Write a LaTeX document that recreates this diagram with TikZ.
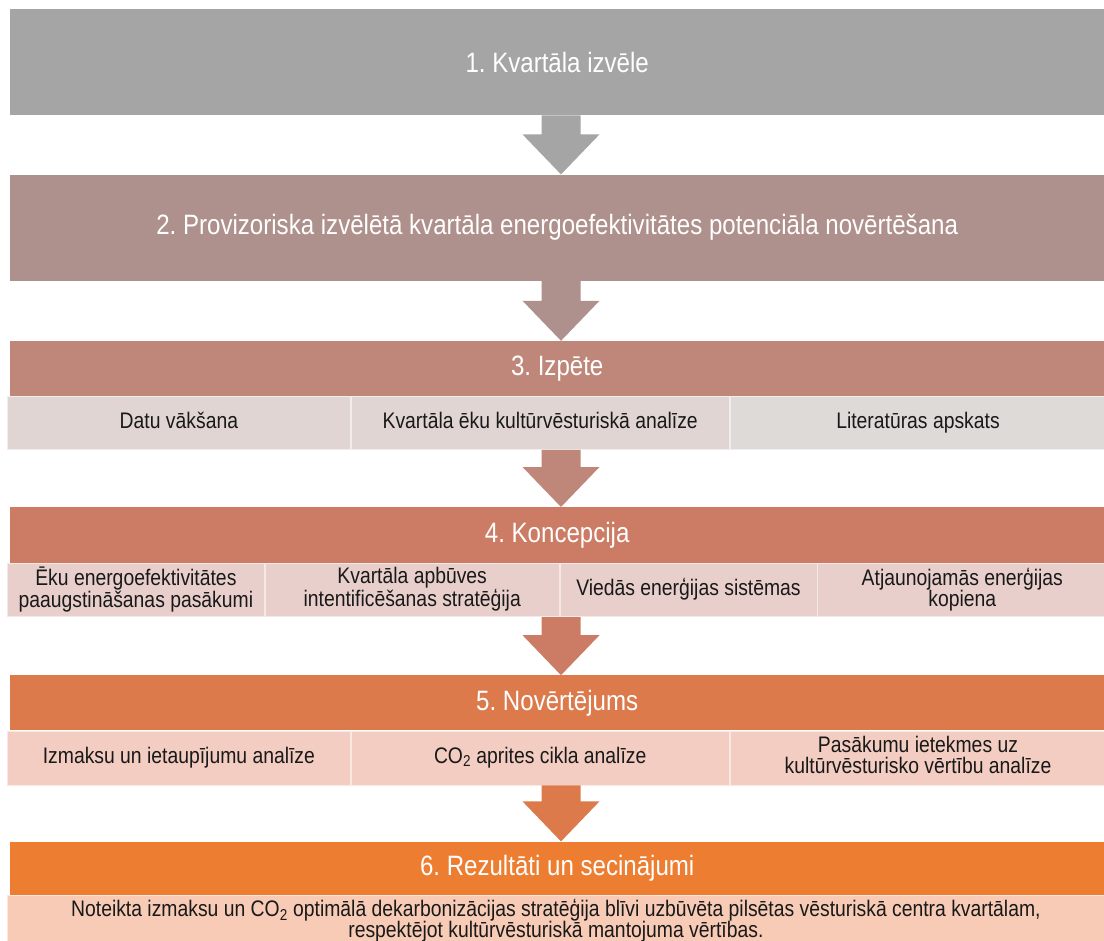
\documentclass[tikz,border=0pt]{standalone}
\usepackage{fontspec}
\setmainfont{Liberation Sans}[FakeStretch=0.86]
\usetikzlibrary{positioning, calc}
\frenchspacing

\definecolor{stageA}{HTML}{A5A5A5}
\definecolor{stageB}{HTML}{AE908C}
\definecolor{stageC}{HTML}{BE877A}
\definecolor{stageD}{HTML}{CC7C64}
\definecolor{stageE}{HTML}{DC7A4C}
\definecolor{stageF}{HTML}{ED7D31}
\definecolor{partC}{HTML}{E1D5D3}
\definecolor{partCc}{HTML}{DEDAD8}
\definecolor{partD}{HTML}{E8CFCB}
\definecolor{partE}{HTML}{F3CDC2}
\definecolor{partF}{HTML}{F7CBB6}

\tikzset{
  stage/.style={fill=#1, text=white, inner sep=0pt, minimum width=1094pt,
    font=\fontsize{28}{30}\selectfont},
  part/.style={fill=#1, draw=white!55!#1, line width=0.8pt, inner sep=0pt,
    minimum height=53pt, align=center, text=black!90,
    font=\fontsize{22.5}{21}\selectfont,
    execute at begin node=\strut, execute at end node=\strut},
}

% block arrow from the bottom of #1 down to the top of #2
\newcommand{\stagearrow}[3]{%
  \fill[#3] ($(axis |- #1.south)+(-19.5pt,0)$) -- ($(axis |- #2.north)+(-19.5pt,40pt)$)
    -- ++(-19pt,0) -- (axis |- #2.north) -- ($(axis |- #2.north)+(38.5pt,40pt)$)
    -- ++(-19pt,0) -- ($(axis |- #1.south)+(19.5pt,0)$) -- cycle;}

\begin{document}
\begin{tikzpicture}
    \useasboundingbox (0,0) rectangle (1104pt,-941pt);
    \coordinate (axis) at (561pt,0);

    \node[stage=stageA, minimum height=106pt, anchor=north west] (s1) at (10pt,-9pt) {1. Kvartāla izvēle};
    \node[stage=stageB, minimum height=106pt, below=59pt of s1] (s2) {2. Provizoriska izvēlētā kvartāla energoefektivitātes potenciāla novērtēšana};

    \node[stage=stageC, minimum height=55pt, below=60pt of s2] (s3) {3. Izpēte};
    \node[part=partC, minimum width=343pt, anchor=north west] (s3a) at ($(s3.south west)+(-3pt,0)$) {Datu vākšana};
    \node[part=partC, minimum width=378pt, right=0pt of s3a] (s3b) {Kvartāla ēku kultūrvēsturiskā analīze};
    \node[part=partCc, minimum width=376pt, right=0pt of s3b] (s3c) {Literatūras apskats};

    \node[stage=stageD, minimum height=56pt, below=57pt of s3b.south -| s3.south] (s4) {4. Koncepcija};
    \node[part=partD, minimum width=257pt, anchor=north west] (s4a) at ($(s4.south west)+(-3pt,0)$) {Ēku energoefektivitātes\\paaugstināšanas pasākumi};
    \node[part=partD, minimum width=294pt, right=0pt of s4a] (s4b) {Kvartāla apbūves\\intentificēšanas stratēģija};
    \node[part=partD, minimum width=257pt, right=0pt of s4b] (s4c) {Viedās enerģijas sistēmas};
    \node[part=partD, minimum width=289pt, right=0pt of s4c] (s4d) {Atjaunojamās enerģijas\\kopiena};

    \node[stage=stageE, minimum height=55pt, below=58pt of s4b.south -| s4.south] (s5) {5. Novērtējums};
    \node[part=partE, minimum width=343pt, minimum height=54pt, anchor=north west] (s5a) at ($(s5.south west)+(-3pt,0)$) {Izmaksu un ietaupījumu analīze};
    \node[part=partE, minimum width=378pt, minimum height=54pt, right=0pt of s5a] (s5b) {CO\textsubscript{2} aprites cikla analīze};
    \node[part=partE, minimum width=376pt, minimum height=54pt, right=0pt of s5b] (s5c) {Pasākumu ietekmes uz\\kultūrvēsturisko vērtību analīze};

    \node[stage=stageF, minimum height=53pt, below=56pt of s5b.south -| s5.south] (s6) {6. Rezultāti un secinājumi};
    \node[part=partF, minimum width=1097pt, minimum height=52pt, anchor=north west] (s6a) at ($(s6.south west)+(-3pt,0)$) {Noteikta izmaksu un CO\textsubscript{2} optimālā dekarbonizācijas stratēģija blīvi uzbūvēta pilsētas vēsturiskā centra kvartālam,\\respektējot kultūrvēsturiskā mantojuma vērtības.};

    \stagearrow{s1}{s2}{stageA}
    \stagearrow{s2}{s3}{stageB}
    \stagearrow{s3b}{s4}{stageC}
    \stagearrow{s4b}{s5}{stageD}
    \stagearrow{s5b}{s6}{stageE}
\end{tikzpicture}
\end{document}
